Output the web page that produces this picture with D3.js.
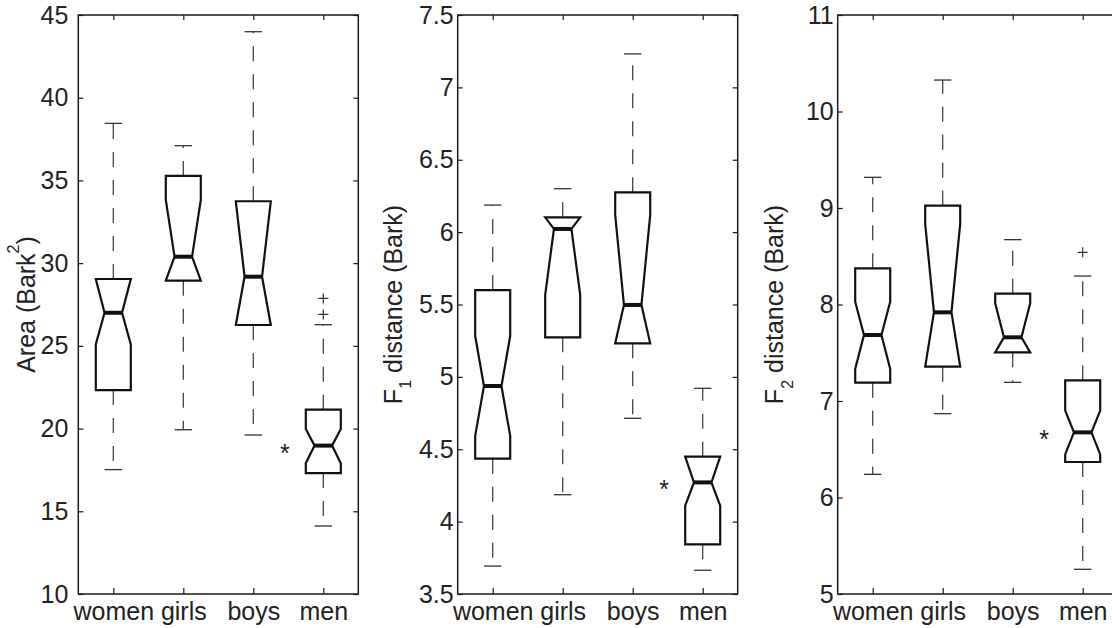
<!DOCTYPE html>
<html>
<head>
<meta charset="utf-8">
<script src="https://cdn.jsdelivr.net/npm/d3@7"></script>
<style>
  body { margin: 0; background: #fff; }
  text { font-family: "Liberation Sans", Arial, Helvetica, sans-serif; fill: #222; }
</style>
</head>
<body>
<script>
const groups = ["women", "girls", "boys", "men"];

// Area (Bark^2)
const areaTicks = [10, 15, 20, 25, 30, 35, 40, 45];
const areaLower = [17.52, 19.93, 19.61, 14.11];
const areaQ1 = [22.33, 28.94, 26.26, 17.31];
const areaNotchLo = [25.09, 28.94, 26.26, 17.90];
const areaMedian = [27.0, 30.39, 29.18, 18.97];
const areaNotchHi = [29.04, 33.82, 33.74, 19.97];
const areaQ3 = [29.04, 35.27, 33.74, 21.14];
const areaUpper = [38.45, 37.10, 43.99, 26.28];
const areaOutliers = [[], [], [], [27.87, 26.9]];

// F1 distance (Bark)
const f1Ticks = [3.5, 4, 4.5, 5, 5.5, 6, 6.5, 7, 7.5];
const f1Lower = [3.693, 4.186, 4.714, 3.664];
const f1Q1 = [4.435, 5.273, 5.232, 3.843];
const f1NotchLo = [4.592, 5.566, 5.232, 4.110];
const f1Median = [4.937, 6.022, 5.497, 4.271];
const f1NotchHi = [5.282, 6.102, 6.118, 4.449];
const f1Q3 = [5.600, 6.102, 6.275, 4.449];
const f1Upper = [6.187, 6.30, 7.231, 4.921];
const f1Outliers = [[], [], [], []];

// F2 distance (Bark)
const f2Ticks = [5, 6, 7, 8, 9, 10, 11];
const f2Lower = [6.240, 6.869, 7.193, 5.256];
const f2Q1 = [7.190, 7.356, 7.504, 6.368];
const f2NotchLo = [7.332, 7.356, 7.504, 6.447];
const f2Median = [7.684, 7.919, 7.660, 6.675];
const f2NotchHi = [8.029, 8.834, 8.012, 6.900];
const f2Q3 = [8.375, 9.024, 8.112, 7.214];
const f2Upper = [9.318, 10.326, 8.672, 8.295];
const f2Outliers = [[], [], [], [8.541]];

// group marked as significantly different
const markedGroup = "men";

const W = 1112, H = 628;
const plotTop = 15, plotBottom = 594, plotW = 280;

const svg = d3.select("body").append("svg")
    .attr("width", W)
    .attr("height", H);

var makeBoxes = function(lo, q1, nlo, med, nhi, q3, hi, out) {
    return groups.map((g, i) => ({
        group: g, i: i + 1,
        lo: lo[i], q1: q1[i], nlo: nlo[i], med: med[i],
        nhi: nhi[i], q3: q3[i], hi: hi[i], out: out[i]
    }));
};

const panels = [
    { left: 78.3, ticks: areaTicks, pad: 10, labelX: -43,
      label: [["Area (Bark", 0], ["2", -16, 16], [")", 16]],
      boxes: makeBoxes(areaLower, areaQ1, areaNotchLo, areaMedian, areaNotchHi, areaQ3, areaUpper, areaOutliers) },
    { left: 457.7, ticks: f1Ticks, pad: 4, labelX: -56,
      label: [["F", 0], ["1", 9, 16], [" distance (Bark)", -9]],
      boxes: makeBoxes(f1Lower, f1Q1, f1NotchLo, f1Median, f1NotchHi, f1Q3, f1Upper, f1Outliers) },
    { left: 837.7, ticks: f2Ticks, pad: 4, labelX: -55,
      label: [["F", 0], ["2", 10, 16], [" distance (Bark)", -10]],
      boxes: makeBoxes(f2Lower, f2Q1, f2NotchLo, f2Median, f2NotchHi, f2Q3, f2Upper, f2Outliers) }
];

var drawPanel = function(p) {
    var g = svg.append("g").attr("transform", `translate(${p.left},0)`);

    var x = d3.scaleLinear().domain([0.5, groups.length + 0.5]).range([0, plotW]);
    var y = d3.scaleLinear().domain(d3.extent(p.ticks)).range([plotBottom, plotTop]);
    var unit = x(1) - x(0);
    var half = unit * 0.25, notchHalf = unit * 0.125, capHalf = unit * 0.125;

    // axes, ticks pointing inwards
    var fmt = (d) => String(d);
    var styleAxis = (sel) => {
        sel.select(".domain").remove();
        sel.selectAll(".tick line").attr("stroke", "#1a1a1a").attr("stroke-width", 1.2);
        sel.selectAll(".tick text").attr("font-size", 25).attr("fill", "#222")
            .style("font-family", "'Liberation Sans', Arial, sans-serif");
    };
    g.append("g")
        .call(d3.axisLeft(y).tickValues(p.ticks).tickFormat(fmt).tickSizeInner(-5).tickSizeOuter(0).tickPadding(p.pad))
        .call(styleAxis);
    g.append("g").attr("transform", `translate(${plotW},0)`)
        .call(d3.axisRight(y).tickValues(p.ticks).tickFormat("").tickSizeInner(-5).tickSizeOuter(0))
        .call(styleAxis);
    g.append("g").attr("transform", `translate(0,${plotBottom})`)
        .call(d3.axisBottom(x).tickValues(d3.range(1, groups.length + 1)).tickFormat((d) => groups[d - 1])
            .tickSizeInner(-6).tickSizeOuter(0).tickPadding(8))
        .call(styleAxis);
    g.append("g").attr("transform", `translate(0,${plotTop})`)
        .call(d3.axisTop(x).tickValues(d3.range(1, groups.length + 1)).tickFormat("").tickSizeInner(-5).tickSizeOuter(0))
        .call(styleAxis);

    g.append("rect")
        .attr("x", 0).attr("y", plotTop)
        .attr("width", plotW).attr("height", plotBottom - plotTop)
        .attr("fill", "none").attr("stroke", "#1a1a1a").attr("stroke-width", 1.5);

    // y label
    var lab = g.append("text")
        .attr("transform", `translate(${p.labelX},${(plotTop + plotBottom) / 2}) rotate(-90)`)
        .attr("text-anchor", "middle")
        .attr("font-size", 25);
    p.label.forEach((s) => {
        lab.append("tspan").text(s[0]).attr("dy", s[1]).attr("font-size", s[2] || 25);
    });

    var b = g.selectAll(".box").data(p.boxes).enter().append("g").attr("class", "box");

    // whiskers, drawn outward from the box
    var whisk = [["q3", "hi"], ["q1", "lo"]];
    whisk.forEach((w) => {
        b.append("line")
            .attr("x1", (d) => x(d.i)).attr("x2", (d) => x(d.i))
            .attr("y1", (d) => y(d[w[0]])).attr("y2", (d) => y(d[w[1]]))
            .attr("stroke", "#444").attr("stroke-width", 1.3)
            .attr("stroke-dasharray", "15,13");
        b.append("line")
            .attr("x1", (d) => x(d.i) - capHalf).attr("x2", (d) => x(d.i) + capHalf)
            .attr("y1", (d) => y(d[w[1]])).attr("y2", (d) => y(d[w[1]]))
            .attr("stroke", "#333").attr("stroke-width", 1.3);
    });

    // notched box
    b.append("path")
        .attr("d", (d) => {
            var c = x(d.i);
            var pts = [
                [c - half, y(d.q1)], [c - half, y(d.nlo)], [c - notchHalf, y(d.med)],
                [c - half, y(d.nhi)], [c - half, y(d.q3)],
                [c + half, y(d.q3)], [c + half, y(d.nhi)], [c + notchHalf, y(d.med)],
                [c + half, y(d.nlo)], [c + half, y(d.q1)]
            ];
            return d3.line()(pts) + "Z";
        })
        .attr("fill", "none").attr("stroke", "#111").attr("stroke-width", 2.2)
        .attr("stroke-linejoin", "miter");

    b.append("line")
        .attr("x1", (d) => x(d.i) - notchHalf).attr("x2", (d) => x(d.i) + notchHalf)
        .attr("y1", (d) => y(d.med)).attr("y2", (d) => y(d.med))
        .attr("stroke", "#111").attr("stroke-width", 4);

    // outliers
    b.selectAll(".out").data((d) => d.out.map((v) => ({ i: d.i, v: v })))
        .enter().append("path")
        .attr("class", "out")
        .attr("d", (d) => `M${x(d.i) - 5},${y(d.v)}H${x(d.i) + 5}M${x(d.i)},${y(d.v) - 5}V${y(d.v) + 5}`)
        .attr("stroke", "#333").attr("stroke-width", 1.2);

    // significance mark
    var m = p.boxes.find((d) => d.group === markedGroup);
    g.append("text")
        .attr("x", x(m.i - 0.55))
        .attr("y", y(m.med) + 16)
        .attr("text-anchor", "middle")
        .attr("font-size", 25)
        .text("*");
};

panels.forEach(drawPanel);
</script>
</body>
</html>
